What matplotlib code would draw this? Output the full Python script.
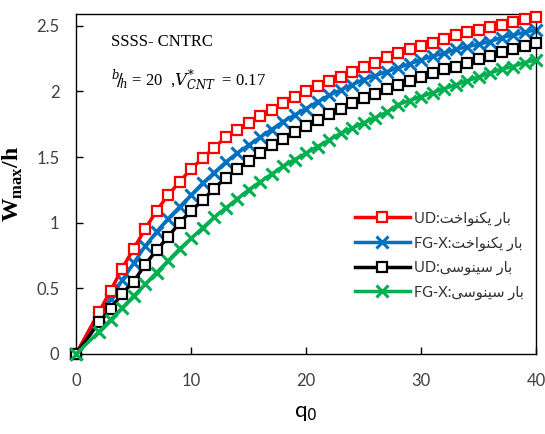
import matplotlib.pyplot as plt

# load parameter q0 (markers at 0, then 2..40)
q0 = [0] + list(range(2, 41))

ud_uniform = [0, 0.32, 0.48, 0.65, 0.80, 0.95, 1.09, 1.21, 1.31, 1.41, 1.49, 1.57, 1.65,
              1.71, 1.76, 1.81, 1.86, 1.91, 1.96, 2.00, 2.04, 2.08, 2.11, 2.15, 2.19,
              2.22, 2.26, 2.29, 2.32, 2.35, 2.37, 2.40, 2.43, 2.45, 2.47, 2.49, 2.51,
              2.53, 2.55, 2.57]
fgx_uniform = [0, 0.28, 0.42, 0.56, 0.69, 0.82, 0.93, 1.03, 1.12, 1.21, 1.30, 1.38, 1.46,
               1.53, 1.59, 1.65, 1.71, 1.77, 1.82, 1.87, 1.92, 1.97, 2.01, 2.05, 2.09,
               2.12, 2.15, 2.18, 2.21, 2.24, 2.27, 2.29, 2.32, 2.34, 2.36, 2.38, 2.41,
               2.43, 2.45, 2.47]
ud_sine = [0, 0.24, 0.34, 0.46, 0.55, 0.68, 0.79, 0.89, 1.00, 1.09, 1.17, 1.26, 1.34,
           1.41, 1.47, 1.53, 1.59, 1.64, 1.69, 1.74, 1.78, 1.83, 1.87, 1.91, 1.95,
           1.98, 2.02, 2.05, 2.08, 2.11, 2.14, 2.17, 2.19, 2.22, 2.25, 2.27, 2.30,
           2.32, 2.35, 2.37]
fgx_sine = [0, 0.17, 0.26, 0.35, 0.44, 0.53, 0.62, 0.71, 0.80, 0.88, 0.96, 1.04, 1.11,
            1.18, 1.25, 1.31, 1.37, 1.43, 1.48, 1.53, 1.58, 1.63, 1.68, 1.72, 1.76,
            1.80, 1.84, 1.90, 1.93, 1.96, 1.99, 2.02, 2.05, 2.08, 2.11, 2.14, 2.17,
            2.19, 2.22, 2.24]

# Persian words in presentation forms, visual (left-to-right) order
uniform_fa = '\uFE96\uFEA7\uFE8D\uFEEE\uFEE8\uFB91\uFBFE \uFEAD\uFE8E\uFE91'   # بار یکنواخت
sine_fa = '\uFBFD\uFEB3\uFEEE\uFEE8\uFBFF\uFEB3 \uFEAD\uFE8E\uFE91'             # بار سینوسی

fig = plt.figure(figsize=(5.45, 4.34), dpi=100)
ax = fig.add_axes([76 / 545, 1 - 354 / 434, 460 / 545, 340 / 434])

sq = dict(marker='s', markersize=7, markerfacecolor='white', markeredgewidth=1.6)
xx = dict(marker='x', markersize=8, markeredgewidth=2.2)

h1, = ax.plot(q0, ud_uniform, color='#FF0000', lw=2.5, zorder=3, clip_on=False,
              label='UD:' + uniform_fa, **sq)
h2, = ax.plot(q0, fgx_uniform, color='#0070C0', lw=2.5, zorder=2, clip_on=False,
              label='FG-X:' + uniform_fa, **xx)
h3, = ax.plot(q0, ud_sine, color='black', lw=2.5, zorder=4, clip_on=False,
              label='UD:' + sine_fa, **sq)
h4, = ax.plot(q0, fgx_sine, color='#00B050', lw=2.5, zorder=5, clip_on=False,
              label='FG-X:' + sine_fa, **xx)

ax.set_xlim(0, 40)
ax.set_ylim(0, 2.59)
ax.set_xticks([0, 10, 20, 30, 40])
ax.set_yticks([0, 0.5, 1, 1.5, 2, 2.5])
ax.set_yticklabels(['0', '0.5', '1', '1.5', '2', '2.5'])
ax.tick_params(direction='in', length=5, width=1, labelsize=12, labelcolor='#404040')
ax.tick_params(axis='x', pad=14)
ax.tick_params(axis='y', pad=12)
for t in ax.get_xticklabels() + ax.get_yticklabels():
    t.set_family('Lato')
for s in ax.spines.values():
    s.set_linewidth(1)

ax.set_xlabel('q$_0$', fontsize=16, family='Lato', labelpad=10)
ax.set_ylabel(r'W$_{\mathregular{max}}$/h', fontsize=17, family='Liberation Serif',
              fontweight='bold', labelpad=8)

ax.text(0.076, 0.905, 'SSSS- CNTRC', transform=ax.transAxes, fontsize=12,
        family='Liberation Serif')
ax.text(0.076, 0.79, r'$^{b}\!/\!_{h}$ = 20  ,$V^{*}_{CNT}$  = 0.17', transform=ax.transAxes,
        fontsize=12, family='Liberation Serif', math_fontfamily='dejavuserif')

leg = ax.legend(handles=[h1, h2, h3, h4], loc='center', bbox_to_anchor=(0.79, 0.29),
                frameon=False, handlelength=3.8, labelspacing=0.7, handletextpad=0.3,
                prop={'family': ['Lato', 'DejaVu Sans'], 'size': 10.5})
for t in leg.get_texts():
    t.set_color('#303030')

fig.savefig('out.png', dpi=100)
